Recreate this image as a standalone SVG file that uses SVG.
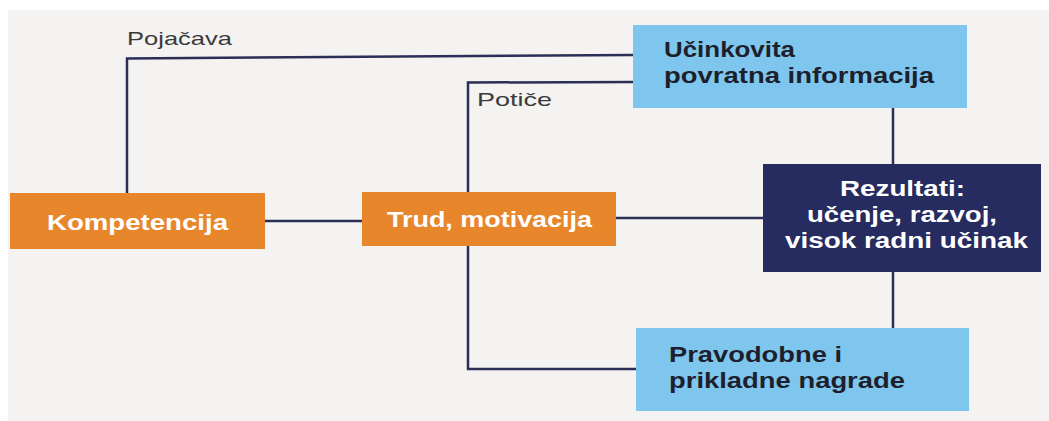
<svg xmlns="http://www.w3.org/2000/svg" width="1049" height="421" viewBox="0 0 1049 421">
<style>
.lbl{font-family:"Liberation Sans",Arial,sans-serif;font-size:19px;fill:#3a3a3c}
.bt{font-family:"Liberation Sans",Arial,sans-serif;font-weight:bold;font-size:22px}
.w{fill:#ffffff}
.d{fill:#1d1f2c}
.or{fill:#e8862c}
.lb{fill:#7fc6ee}
.nv{fill:#262c5f}
.con{fill:none;stroke:#2b2e56;stroke-width:2.5}
</style>
<rect x="0" y="0" width="1049" height="421" fill="#ffffff"/>
<rect x="8" y="10" width="1041" height="411" fill="#f5f3f1"/>
<g id="connectors">
<polyline class="con" points="127,193 127,58.5 633,55"/>
<polyline class="con" points="468,192 468,82.5 633,82"/>
<line class="con" x1="265" y1="221" x2="362" y2="221"/>
<line class="con" x1="616" y1="218" x2="763" y2="218"/>
<polyline class="con" points="468,246 468,369 636,369"/>
<line class="con" x1="893" y1="108" x2="893" y2="164"/>
<line class="con" x1="893" y1="272" x2="893" y2="328"/>
<text class="lbl" x="127" y="45" textLength="105" lengthAdjust="spacingAndGlyphs">Pojačava</text>
<text class="lbl" x="477" y="106" textLength="75" lengthAdjust="spacingAndGlyphs">Potiče</text>
</g>
<g id="kompetencija">
<rect class="or" x="10" y="193" width="255" height="56"/>
<text class="bt w" x="47" y="230" textLength="181" lengthAdjust="spacingAndGlyphs">Kompetencija</text>
</g>
<g id="trud">
<rect class="or" x="362" y="192" width="254" height="54"/>
<text class="bt w" x="387" y="227" textLength="205" lengthAdjust="spacingAndGlyphs">Trud, motivacija</text>
</g>
<g id="ucinkovita">
<rect class="lb" x="633" y="25" width="334" height="83"/>
<text class="bt d" x="664" y="57" textLength="131" lengthAdjust="spacingAndGlyphs">Učinkovita</text>
<text class="bt d" x="664" y="83" textLength="270" lengthAdjust="spacingAndGlyphs">povratna informacija</text>
</g>
<g id="rezultati">
<rect class="nv" x="763" y="164" width="278" height="108"/>
<text class="bt w" x="840" y="196" textLength="125" lengthAdjust="spacingAndGlyphs">Rezultati:</text>
<text class="bt w" x="807" y="222" textLength="190" lengthAdjust="spacingAndGlyphs">učenje, razvoj,</text>
<text class="bt w" x="785" y="248" textLength="243" lengthAdjust="spacingAndGlyphs">visok radni učinak</text>
</g>
<g id="pravodobne">
<rect class="lb" x="636" y="328" width="333" height="83"/>
<text class="bt d" x="669" y="362" textLength="173" lengthAdjust="spacingAndGlyphs">Pravodobne i</text>
<text class="bt d" x="669" y="388" textLength="236" lengthAdjust="spacingAndGlyphs">prikladne nagrade</text>
</g>
</svg>
